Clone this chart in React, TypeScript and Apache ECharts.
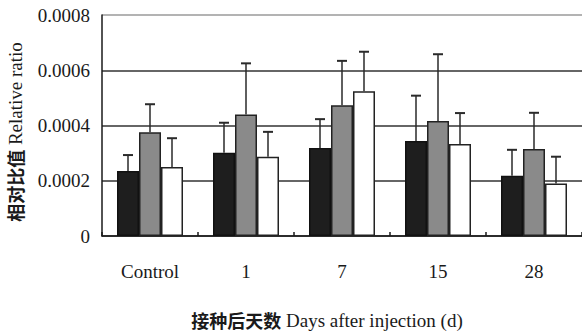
import React, { useEffect, useRef } from "react";
import * as echarts from "echarts";

const categories = ["Control", "1", "7", "15", "28"];
const blackValues = [0.000235, 0.000301, 0.000319, 0.000344, 0.000218];
const blackErrors = [0.000058, 0.000109, 0.000104, 0.000164, 0.000094];
const grayValues = [0.000376, 0.00044, 0.000473, 0.000416, 0.000315];
const grayErrors = [0.000101, 0.000185, 0.000161, 0.000242, 0.000131];
const whiteValues = [0.00025, 0.000287, 0.000524, 0.000333, 0.00019];
const whiteErrors = [0.000104, 0.00009, 0.000143, 0.000112, 0.000097];
const yTickLabels = ["0", "0.0002", "0.0004", "0.0006", "0.0008"];
const yTitleCn = "相对比值";
const yTitleEn = " Relative ratio";
const xTitleCn = "接种后天数";
const xTitleEn = " Days after injection (d)";

const SERIF = "'Liberation Serif', serif";
const CJK = "'Noto Sans CJK SC', sans-serif";
const BAR_W = 22;

function errSeries(values: number[], errors: number[], offset: number) {
  return {
    type: "custom",
    coordinateSystem: "cartesian2d",
    z: 5,
    silent: true,
    data: values.map((v, i) => [i, v, errors[i]]),
    encode: { x: 0, y: 1 },
    renderItem: (params: any, api: any) => {
      const i = api.value(0);
      const v = api.value(1);
      const e = api.value(2);
      const p0 = api.coord([i, v]);
      const p1 = api.coord([i, v + e]);
      const x = p0[0] + offset;
      return {
        type: "group",
        children: [
          { type: "line", shape: { x1: x, y1: p0[1], x2: x, y2: p1[1] }, style: { stroke: "#2a2a2a", lineWidth: 1.5 } },
          { type: "line", shape: { x1: x - 5, y1: p1[1], x2: x + 5, y2: p1[1] }, style: { stroke: "#2a2a2a", lineWidth: 2 } },
        ],
      };
    },
  };
}

const richStyles = {
  c: { fontFamily: CJK, fontSize: 18, fontWeight: 600, fill: "#1a1a1a", color: "#1a1a1a" },
  e: { fontFamily: SERIF, fontSize: 19, fill: "#1a1a1a", color: "#1a1a1a" },
};

export default function App() {
  const ref = useRef<HTMLDivElement>(null);
  useEffect(() => {
    if (!ref.current) return;
    const chart = echarts.init(ref.current, undefined, { renderer: "svg" });
    const barBase = {
      type: "bar",
      barWidth: BAR_W,
      barGap: "0%",
      z: 3,
    };
    chart.setOption({
      animation: false,
      backgroundColor: "#ffffff",
      grid: { left: 102, top: 15, bottom: 97, right: -3 },
      xAxis: {
        type: "category",
        data: categories,
        axisLine: { show: true, lineStyle: { color: "#1a1a1a", width: 1.5 } },
        axisTick: { show: true, inside: true, length: 4, lineStyle: { color: "#1a1a1a", width: 1.5 } },
        axisLabel: { margin: 26, color: "#1a1a1a", fontFamily: SERIF, fontSize: 19 },
      },
      yAxis: {
        type: "value",
        min: 0,
        max: 0.0008,
        interval: 0.0002,
        axisLine: { show: true, lineStyle: { color: "#1a1a1a", width: 1.5 } },
        axisTick: { show: false },
        axisLabel: {
          margin: 12,
          color: "#1a1a1a",
          fontFamily: SERIF,
          fontSize: 19,
          formatter: (_v: number, idx: number) => yTickLabels[idx],
        },
        splitLine: {
          show: true,
          lineStyle: { color: ["#333", "#333", "#333", "#333", "#9a9a9a"], width: 1.5 },
        },
      },
      graphic: [
        {
          type: "text",
          x: 15,
          y: 132,
          rotation: Math.PI / 2,
          style: {
            text: `{c|${yTitleCn}}{e|${yTitleEn}}`,
            rich: richStyles,
            fill: "#1a1a1a",
            textAlign: "center",
            textVerticalAlign: "middle",
          },
        },
        {
          type: "text",
          x: 327,
          y: 320,
          style: {
            text: `{c|${xTitleCn}}{e|${xTitleEn}}`,
            rich: richStyles,
            fill: "#1a1a1a",
            textAlign: "center",
            textVerticalAlign: "middle",
          },
        },
      ],
      series: [
        { ...barBase, data: blackValues, itemStyle: { color: "#1e1e1e", borderColor: "#111", borderWidth: 1.5 } },
        { ...barBase, data: grayValues, itemStyle: { color: "#8a8a8a", borderColor: "#222", borderWidth: 1.5 } },
        { ...barBase, data: whiteValues, itemStyle: { color: "#ffffff", borderColor: "#222", borderWidth: 1.5 } },
        errSeries(blackValues, blackErrors, -BAR_W),
        errSeries(grayValues, grayErrors, 0),
        errSeries(whiteValues, whiteErrors, BAR_W),
      ],
    });
    return () => chart.dispose();
  }, []);
  return (
    <div
      ref={ref}
      style={{ position: "fixed", left: 0, top: 0, width: 582, height: 333, background: "#fff" }}
    />
  );
}
